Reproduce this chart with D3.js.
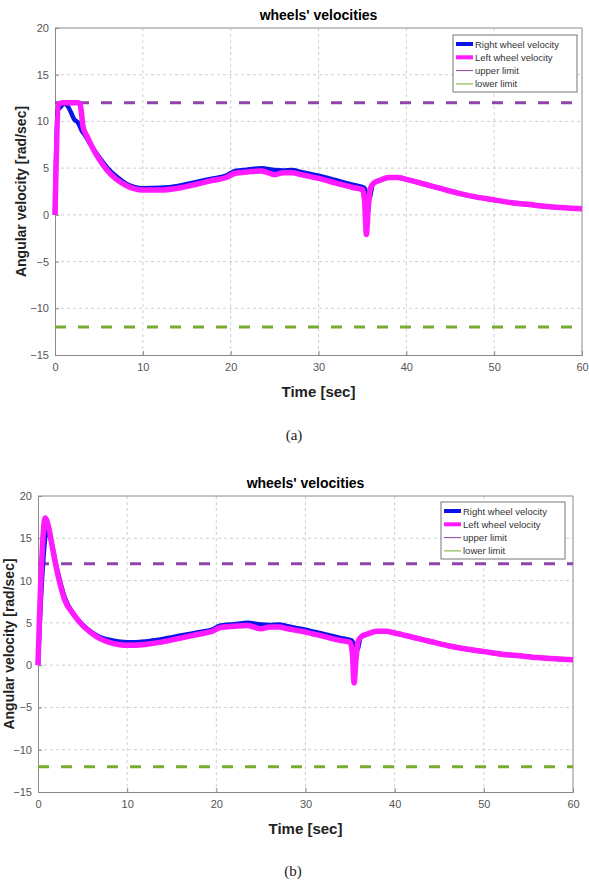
<!DOCTYPE html>
<meta charset="utf-8">
<script src="https://cdn.jsdelivr.net/npm/d3@7"></script>
<style>
  body { margin: 0; background: #fff; }
  .lbl { font-family: "Liberation Sans", Arial, sans-serif; }
</style>
<body>
<script>
// ---- data ----
var xTicks = [0, 10, 20, 30, 40, 50, 60];
var yTicks = [-15, -10, -5, 0, 5, 10, 15, 20];
var upperLimit = 12, lowerLimit = -12;
var legendNames = ["Right wheel velocity", "Left wheel velocity", "upper limit", "lower limit"];

// panel (a)
var timeRightA = [0, 0.3, 0.6, 1.0, 1.4, 1.8, 2.2, 2.6, 3.0, 3.5, 4, 5, 6, 7, 8, 9, 10, 12, 14, 16, 18, 19.5, 20.5, 22, 23.5, 25, 26, 27, 28, 30, 32, 34, 35.2, 35.5, 35.8, 36.2, 37, 38, 39, 40, 42, 44, 46, 48, 50, 52, 54, 56, 58, 60];
var rightA = [0, 11.2, 11.5, 11.9, 11.7, 11.0, 10.2, 9.9, 9.1, 8.4, 7.6, 6.2, 5.0, 4.1, 3.4, 3.0, 2.85, 2.9, 3.1, 3.5, 3.9, 4.2, 4.7, 4.85, 5.0, 4.8, 4.75, 4.8, 4.6, 4.2, 3.7, 3.2, 2.9, 2.2, 1.8, 3.3, 3.7, 4.0, 4.0, 3.8, 3.3, 2.8, 2.3, 1.9, 1.6, 1.3, 1.1, 0.9, 0.75, 0.65];
var timeLeftA = [0, 0.4, 0.8, 1.5, 2.0, 2.6, 2.85, 3.0, 3.2, 3.6, 4, 5, 6, 7, 8, 9, 10, 12, 14, 16, 18, 19.5, 20.5, 22, 23.5, 25, 26, 27, 28, 30, 32, 34, 35.0, 35.25, 35.45, 35.65, 35.9, 36.3, 37, 38, 39, 40, 42, 44, 46, 48, 50, 52, 54, 56, 58, 60];
var leftA = [0, 11.8, 12.0, 12.0, 12.0, 12.0, 11.9, 11.0, 9.4, 8.5, 7.7, 6.0, 4.7, 3.8, 3.2, 2.8, 2.65, 2.65, 2.85, 3.25, 3.7, 4.0, 4.45, 4.6, 4.7, 4.3, 4.5, 4.5, 4.3, 3.9, 3.4, 2.9, 2.7, 1.5, -2.1, 0.5, 2.8, 3.4, 3.7, 4.0, 4.0, 3.8, 3.3, 2.8, 2.3, 1.9, 1.6, 1.3, 1.1, 0.9, 0.75, 0.65];

// panel (b)
var timeRightB = [0, 0.5, 1.0, 1.4, 2, 2.5, 3, 4, 5, 6, 7, 8, 9, 10, 12, 14, 16, 18, 19.5, 20.5, 22, 23.5, 25, 26, 27, 28, 30, 32, 34, 35.2, 35.5, 35.8, 36.2, 37, 38, 39, 40, 42, 44, 46, 48, 50, 52, 54, 56, 58, 60];
var rightB = [0, 11, 16.0, 15.0, 12.0, 9.8, 8.0, 6.0, 4.8, 3.9, 3.3, 3.0, 2.8, 2.7, 2.8, 3.1, 3.5, 3.9, 4.2, 4.7, 4.85, 5.0, 4.8, 4.75, 4.8, 4.6, 4.2, 3.7, 3.2, 2.9, 2.2, 1.8, 3.3, 3.7, 4.0, 4.0, 3.8, 3.3, 2.8, 2.3, 1.9, 1.6, 1.3, 1.1, 0.9, 0.75, 0.65];
var timeLeftB = [0, 0.4, 0.8, 1.2, 1.6, 2, 2.5, 3, 4, 5, 6, 7, 8, 9, 10, 12, 14, 16, 18, 19.5, 20.5, 22, 23.5, 25, 26, 27, 28, 30, 32, 34, 35.0, 35.25, 35.45, 35.65, 35.9, 36.3, 37, 38, 39, 40, 42, 44, 46, 48, 50, 52, 54, 56, 58, 60];
var leftB = [0, 12, 17.4, 16.3, 14.0, 11.8, 9.5, 7.7, 6.0, 4.7, 3.8, 3.1, 2.7, 2.45, 2.35, 2.45, 2.75, 3.2, 3.65, 4.0, 4.45, 4.6, 4.7, 4.3, 4.5, 4.5, 4.3, 3.9, 3.4, 2.9, 2.7, 1.5, -2.1, 0.5, 2.8, 3.4, 3.7, 4.0, 4.0, 3.8, 3.3, 2.8, 2.3, 1.9, 1.6, 1.3, 1.1, 0.9, 0.75, 0.65];

var colors = { right: "#0a14e6", left: "#ff1aff", upper: "#8e44a8", lower: "#77ac30" };

var svg = d3.select("body").append("svg")
    .attr("width", 589)
    .attr("height", 884);

function drawPanel(p) {
  var g = svg.append("g");
  var x = d3.scaleLinear().domain([0, 60]).range([p.left, p.right]);
  var y = d3.scaleLinear().domain([-15, 20]).range([p.bottom, p.top]);

  // grid
  g.selectAll(".gx").data(xTicks.slice(1, -1)).enter().append("line")
    .attr("x1", d => x(d)).attr("x2", d => x(d))
    .attr("y1", p.top).attr("y2", p.bottom)
    .attr("stroke", "#cfcfcf").attr("stroke-dasharray", "3,3");
  g.selectAll(".gy").data(yTicks.slice(1, -1)).enter().append("line")
    .attr("y1", d => y(d)).attr("y2", d => y(d))
    .attr("x1", p.left).attr("x2", p.right)
    .attr("stroke", "#cfcfcf").attr("stroke-dasharray", "3,3");

  // axes
  var xAxis = d3.axisBottom(x).tickValues(xTicks).tickSize(-4).tickPadding(8);
  var yAxis = d3.axisLeft(y).tickValues(yTicks).tickSize(-4).tickPadding(6);
  var gx = g.append("g").attr("transform", "translate(0," + p.bottom + ")").call(xAxis);
  var gy = g.append("g").attr("transform", "translate(" + p.left + ",0)").call(yAxis);
  [gx, gy].forEach(function(a) {
    a.selectAll("path, line").attr("stroke", "#8a8a8a");
    a.selectAll("text").attr("class", "lbl").attr("fill", "#555").style("font-size", "11px");
  });
  // box top/right
  g.append("line").attr("x1", p.left).attr("x2", p.right).attr("y1", p.top).attr("y2", p.top).attr("stroke", "#8a8a8a");
  g.append("line").attr("x1", p.right).attr("x2", p.right).attr("y1", p.top).attr("y2", p.bottom).attr("stroke", "#8a8a8a");

  // limits
  [[upperLimit, colors.upper], [lowerLimit, colors.lower]].forEach(function(l) {
    g.append("line").attr("x1", x(0)).attr("x2", x(60))
      .attr("y1", y(l[0])).attr("y2", y(l[0]))
      .attr("stroke", l[1]).attr("stroke-width", 3).attr("stroke-dasharray", "11,12");
  });

  var line = d3.line().x(d => x(d[0])).y(d => y(d[1])).curve(d3.curveMonotoneX);
  g.append("path").datum(d3.zip(p.tRight, p.right_))
    .attr("d", line).attr("fill", "none").attr("stroke", colors.right).attr("stroke-width", 4.5);
  g.append("path").datum(d3.zip(p.tLeft, p.left_))
    .attr("d", line).attr("fill", "none").attr("stroke", colors.left).attr("stroke-width", 5.5);

  // title and labels
  g.append("text").attr("class", "lbl").attr("x", (p.left + p.right) / 2).attr("y", p.top - 8)
    .attr("text-anchor", "middle").style("font-size", "14px").style("font-weight", "bold")
    .text("wheels' velocities");
  g.append("text").attr("class", "lbl").attr("x", (p.left + p.right) / 2).attr("y", p.bottom + 42)
    .attr("text-anchor", "middle").style("font-size", "15px").style("font-weight", "bold").attr("fill", "#222")
    .text("Time [sec]");
  g.append("text").attr("class", "lbl")
    .attr("transform", "translate(" + p.ylabX + "," + (p.top + p.bottom) / 2 + ") rotate(-90)")
    .attr("text-anchor", "middle").style("font-size", "14px").style("font-weight", "bold").attr("fill", "#222")
    .text("Angular velocity [rad/sec]");

  // legend
  var lg = g.append("g").attr("transform", "translate(" + p.legX + "," + p.legY + ")");
  lg.append("rect").attr("width", 124).attr("height", 57).attr("fill", "#fff").attr("stroke", "#777");
  var legColors = [colors.right, colors.left, colors.upper, colors.lower];
  var legWidths = [4, 4, 1, 1];
  legendNames.forEach(function(n, i) {
    var yy = 9 + i * 13.3;
    lg.append("line").attr("x1", 3).attr("x2", 20).attr("y1", yy).attr("y2", yy)
      .attr("stroke", legColors[i]).attr("stroke-width", legWidths[i]);
    lg.append("text").attr("class", "lbl").attr("x", 22).attr("y", yy + 3.5)
      .style("font-size", "9.5px").attr("fill", "#333").text(n);
  });

  // caption
  g.append("text").attr("x", p.capX).attr("y", p.capY).attr("text-anchor", "middle")
    .style("font-family", "'Liberation Serif', serif").style("font-size", "15px").attr("fill", "#222")
    .text(p.caption);
}

drawPanel({ left: 55, right: 582, top: 28, bottom: 355, ylabX: 26, legX: 453, legY: 35,
  tRight: timeRightA, right_: rightA, tLeft: timeLeftA, left_: leftA, caption: "(a)", capX: 294, capY: 440 });
drawPanel({ left: 38, right: 573, top: 496, bottom: 792, ylabX: 14, legX: 441, legY: 502,
  tRight: timeRightB, right_: rightB, tLeft: timeLeftB, left_: leftB, caption: "(b)", capX: 293, capY: 876 });
</script>
</body>
</html>
